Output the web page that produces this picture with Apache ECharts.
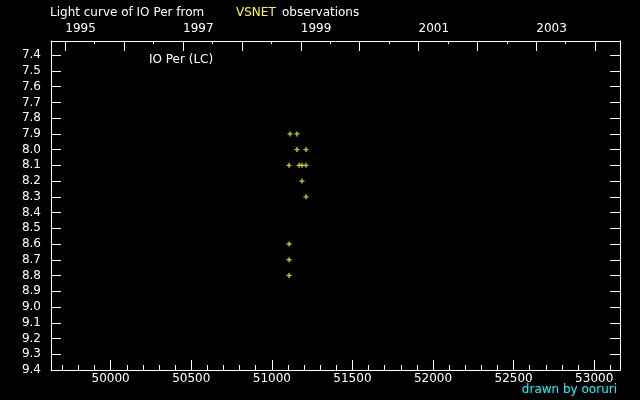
<!DOCTYPE html>
<html>
<head>
<meta charset="utf-8">
<script src="https://cdn.jsdelivr.net/npm/echarts@6/dist/echarts.min.js"></script>
<style>
  html, body { margin: 0; padding: 0; background: #000; }
  #chart { width: 640px; height: 400px; }
</style>
</head>
<body>
<div id="chart"></div>
<script>
// ---- data ----
const jdMin = 49630, jdMax = 53160;          // JD - 2400000
const magMin = 7.31, magMax = 9.40;
const obsJD  = [51113, 51156, 51156, 51212, 51107, 51169, 51187, 51212, 51187, 51212, 51107, 51107, 51107];
const obsMag = [7.9,   7.9,   8.0,   8.0,   8.1,   8.1,   8.1,   8.1,   8.2,   8.3,   8.6,   8.7,   8.8];
const magTicks = [7.4, 7.5, 7.6, 7.7, 7.8, 7.9, 8.0, 8.1, 8.2, 8.3, 8.4, 8.5, 8.6, 8.7, 8.8, 8.9, 9.0, 9.1, 9.2, 9.3, 9.4];
const jdMajorTicks = [50000, 50500, 51000, 51500, 52000, 52500, 53000];
const jdMinorTicks = [49700, 49800, 49900, 50000, 50100, 50200, 50300, 50400, 50500, 50600, 50700, 50800, 50900,
  51000, 51100, 51200, 51300, 51400, 51500, 51600, 51700, 51800, 51900, 52000, 52100, 52200, 52300, 52400,
  52500, 52600, 52700, 52800, 52900, 53000, 53100];
const yearTicks = [1995, 1996, 1997, 1998, 1999, 2000, 2001, 2002, 2003, 2004];
const yearLabels = [1995, 1997, 1999, 2001, 2003];
const halfYearTicks = [1995.5, 1996.5, 1997.5, 1998.5, 1999.5, 2000.5, 2001.5, 2002.5, 2003.5];

// year (fractional) -> JD - 2400000
function yearToJD(y) {
  const yi = Math.floor(y), f = y - yi;
  const j0 = Date.UTC(yi, 0, 1) / 86400000 + 2440587.5 - 2400000;
  const j1 = Date.UTC(yi + 1, 0, 1) / 86400000 + 2440587.5 - 2400000;
  return j0 + f * (j1 - j0);
}
const yearTickJD = yearTicks.map(yearToJD);
const yearLabelJD = yearLabels.map(yearToJD);
const halfYearJD = halfYearTicks.map(yearToJD);

const FONT = 'DejaVu Sans';
const white = '#ffffff';
const lineW = { color: white, width: 1 };

const chart = echarts.init(document.getElementById('chart'), null, { renderer: 'canvas' });
chart.setOption({
  backgroundColor: '#000000',
  animation: false,
  grid: { left: 51, right: 20, top: 41, bottom: 30, containLabel: false },
  xAxis: [
    {
      type: 'value', position: 'bottom', min: jdMin, max: jdMax,
      axisLine: { show: true, lineStyle: lineW },
      axisTick: { show: true, inside: true, length: 10, customValues: jdMajorTicks, lineStyle: lineW },
      axisLabel: { show: true, customValues: jdMajorTicks, color: white, fontSize: 12, fontFamily: FONT, margin: 3,
        formatter: v => String(Math.round(v)) },
      splitLine: { show: false }
    },
    {
      type: 'value', position: 'bottom', min: jdMin, max: jdMax,
      axisLine: { show: false },
      axisTick: { show: true, inside: true, length: 5, customValues: jdMinorTicks, lineStyle: lineW },
      axisLabel: { show: false },
      splitLine: { show: false }
    },
    {
      type: 'value', position: 'top', min: jdMin, max: jdMax,
      axisLine: { show: true, lineStyle: lineW },
      axisTick: { show: true, inside: true, length: 10, customValues: yearTickJD, lineStyle: lineW },
      axisLabel: { show: true, customValues: yearLabelJD, color: white, fontSize: 12, fontFamily: FONT, margin: 6, align: 'left',
        formatter: v => {
          let best = yearLabels[0], d = Infinity;
          yearLabels.forEach(y => { const dd = Math.abs(yearToJD(y) - v); if (dd < d) { d = dd; best = y; } });
          return String(best);
        } },
      splitLine: { show: false }
    },
    {
      type: 'value', position: 'top', min: jdMin, max: jdMax,
      axisLine: { show: false },
      axisTick: { show: true, inside: true, length: 3, customValues: halfYearJD, lineStyle: lineW },
      axisLabel: { show: false },
      splitLine: { show: false }
    }
  ],
  yAxis: [
    {
      type: 'value', position: 'left', inverse: true, min: magMin, max: magMax,
      axisLine: { show: true, lineStyle: lineW },
      axisTick: { show: true, inside: true, length: 10, customValues: magTicks, lineStyle: lineW },
      axisLabel: { show: true, customValues: magTicks, color: white, fontSize: 12, fontFamily: FONT, margin: 10,
        formatter: v => v.toFixed(1) },
      splitLine: { show: false }
    },
    {
      type: 'value', position: 'right', inverse: true, min: magMin, max: magMax,
      axisLine: { show: true, lineStyle: lineW },
      axisTick: { show: true, inside: true, length: 10, customValues: magTicks, lineStyle: lineW },
      axisLabel: { show: false },
      splitLine: { show: false }
    }
  ],
  series: [
    {
      type: 'scatter', xAxisIndex: 0, yAxisIndex: 0,
      data: obsJD.map((x, i) => [x, obsMag[i]]),
      symbol: 'path://M1.8,0H3.2V5H1.8Z M0,1.8H5V3.2H0Z',
      symbolSize: 5,
      itemStyle: { color: '#ffff00' },
      silent: true
    }
  ],
  graphic: [
    { type: 'text', x: 50, y: 13, style: { text: 'Light curve of IO Per from', fill: white, font: '12px "DejaVu Sans"', textVerticalAlign: 'middle' } },
    { type: 'text', x: 236, y: 13, style: { text: 'VSNET', fill: '#ffff00', font: '12px "DejaVu Sans"', textVerticalAlign: 'middle' } },
    { type: 'text', x: 282, y: 13, style: { text: 'observations', fill: white, font: '12px "DejaVu Sans"', textVerticalAlign: 'middle' } },
    { type: 'text', x: 149, y: 60, style: { text: 'IO Per (LC)', fill: white, font: '12px "DejaVu Sans"', textVerticalAlign: 'middle' } },
    { type: 'text', x: 617, y: 390, style: { text: 'drawn by ooruri', fill: '#00ffff', font: '12px "DejaVu Sans"', textAlign: 'right', textVerticalAlign: 'middle' } }
  ]
});
</script>
</body>
</html>
